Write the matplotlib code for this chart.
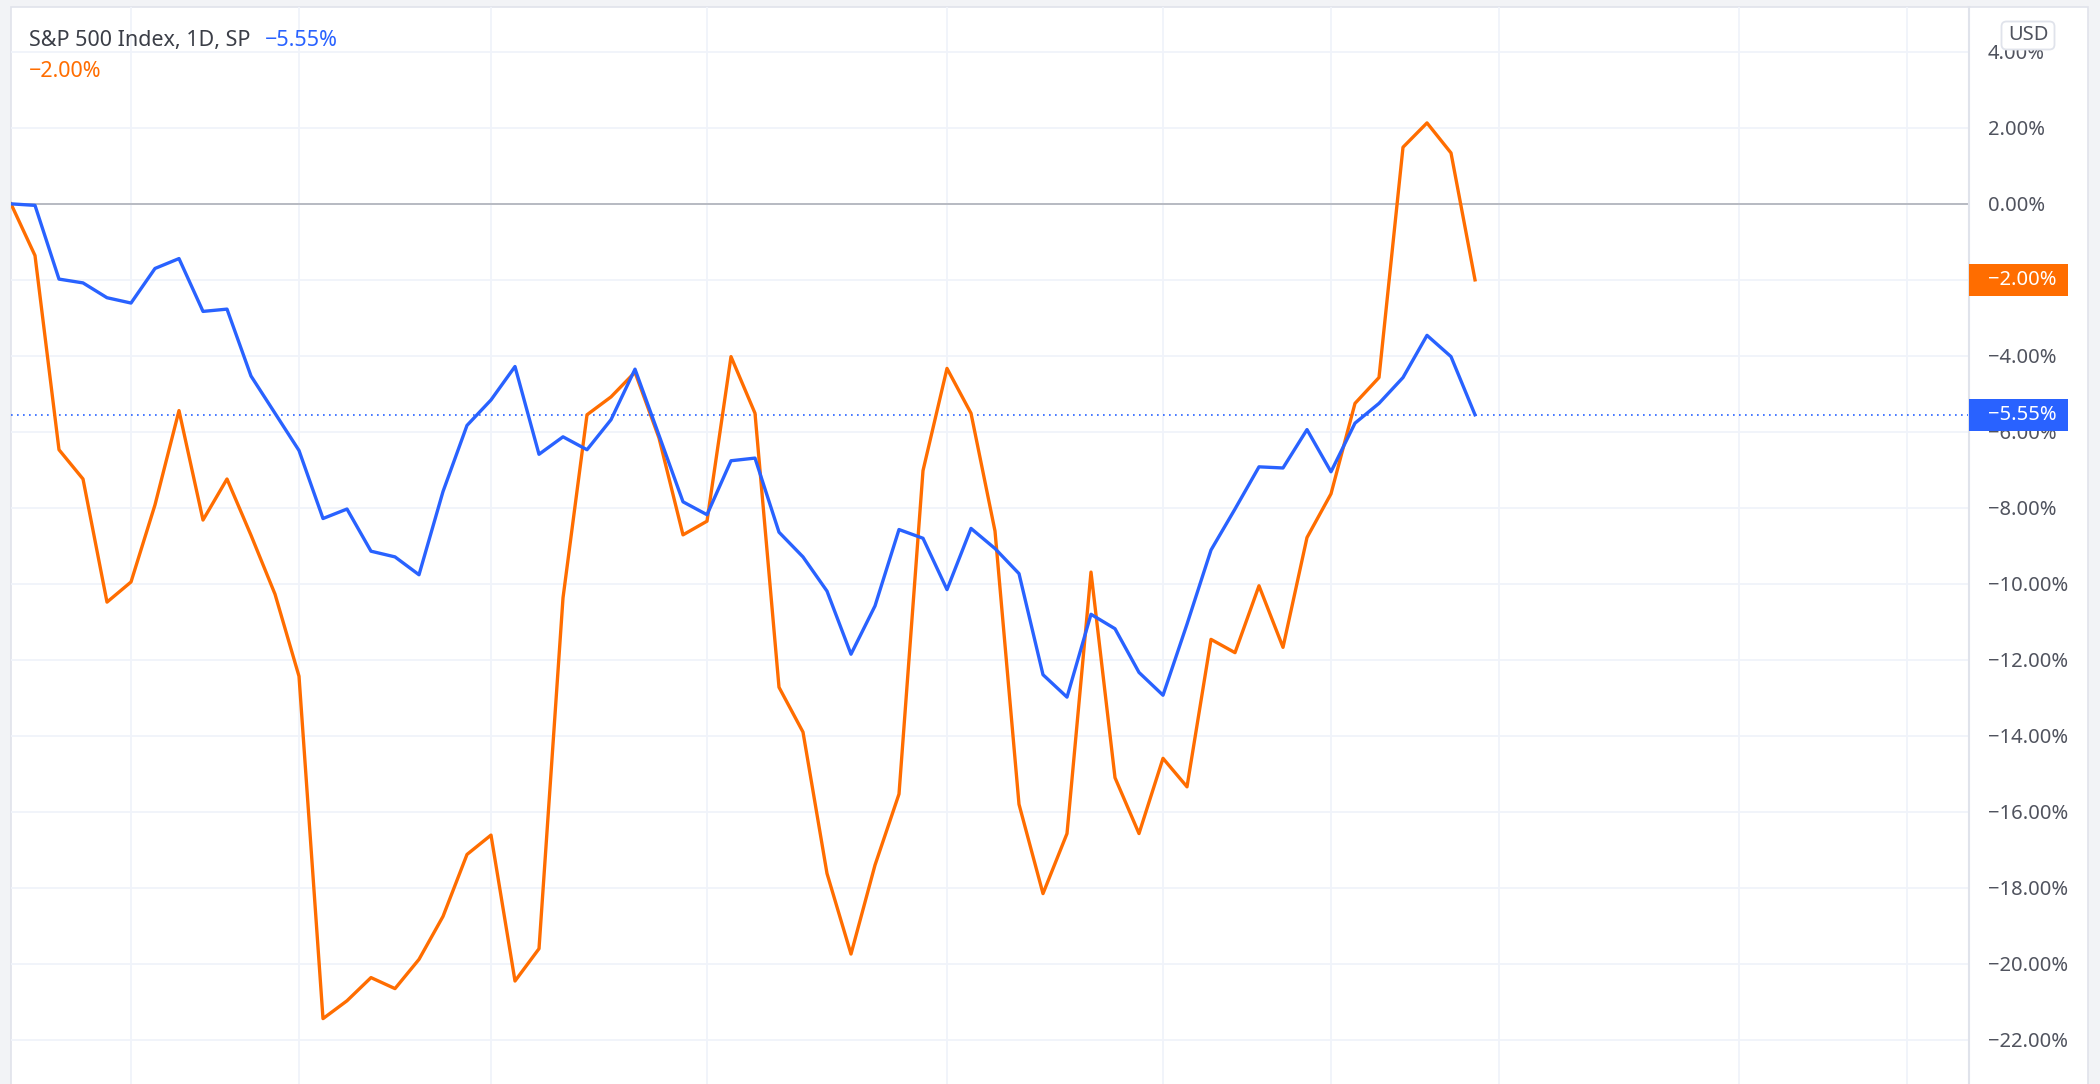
import matplotlib.pyplot as plt
import matplotlib.transforms as mtransforms
from matplotlib.patches import Rectangle, FancyBboxPatch
from matplotlib.lines import Line2D
from matplotlib.ticker import FuncFormatter
import numpy as np

# daily % change since start, S&P 500 (blue) and the compared symbol (orange)
spx_pct = [0.00, -0.04, -1.98, -2.08, -2.47, -2.61, -1.70, -1.44, -2.83, -2.77,
           -4.53, -5.51, -6.49, -8.28, -8.03, -9.14, -9.29, -9.76, -7.57, -5.83,
           -5.16, -4.28, -6.59, -6.13, -6.47, -5.68, -4.35, -6.09, -7.84, -8.18,
           -6.76, -6.69, -8.64, -9.29, -10.19, -11.85, -10.58, -8.57, -8.80, -10.15,
           -8.54, -9.07, -9.73, -12.39, -12.98, -10.80, -11.18, -12.33, -12.93, -11.06,
           -9.11, -8.03, -6.92, -6.95, -5.94, -7.05, -5.77, -5.25, -4.57, -3.46,
           -4.02, -5.55]
cmp_pct = [0.00, -1.36, -6.47, -7.24, -10.48, -9.95, -7.92, -5.44, -8.32, -7.24,
           -8.72, -10.27, -12.43, -21.44, -20.97, -20.36, -20.65, -19.88, -18.75, -17.12,
           -16.61, -20.45, -19.60, -10.37, -5.55, -5.08, -4.43, -6.16, -8.71, -8.35,
           -4.02, -5.51, -12.72, -13.90, -17.62, -19.74, -17.40, -15.53, -7.02, -4.33,
           -5.51, -8.61, -15.80, -18.15, -16.57, -9.69, -15.10, -16.57, -14.59, -15.34,
           -11.46, -11.81, -10.05, -11.67, -8.78, -7.63, -5.25, -4.57, 1.49, 2.13,
           1.34, -2.00]
price_ticks = list(range(-22, 5, 2))
date_grid = [5, 12, 20, 29, 39, 48, 55, 62, 72, 79]

title = 'S&P 500 Index, 1D, SP'
currency = 'USD'

BLUE = '#2962ff'
ORANGE = '#ff6d00'
GRID = '#f0f3fa'
BORDER = '#e0e3eb'
TXT = '#50535e'

W, H = 2100, 1084
plt.rcParams['font.family'] = ['Noto Sans', 'DejaVu Sans']


def fmt_pct(v, pos=None):
    return ('%.2f%%' % v).replace('-', '\u2212')


def px(x, y):
    # pixel from top-left -> figure fraction
    return x / W, 1 - y / H


fig = plt.figure(figsize=(W / 100, H / 100), dpi=100)
fig.patch.set_facecolor('#f2f3f6')

# white chart panel with thin frame
fig.add_artist(Rectangle((11 / W, -0.02), (2088 - 11) / W, (1084 - 7) / H + 0.02,
                         transform=fig.transFigure, facecolor='white',
                         edgecolor=BORDER, lw=1.2, zorder=-5))

ax = fig.add_axes([11 / W, 0, (1969 - 11) / W, (1084 - 7) / H])
ax.set_facecolor('none')
x = np.arange(len(spx_pct))

ax.set_xlim(0, (1969 - 11) / 24.0)
ax.set_ylim(-23.16, 5.18)

ax.set_yticks(price_ticks)
ax.set_xticks(date_grid)
ax.grid(True, color=GRID, lw=1.3)
ax.set_axisbelow(True)
ax.yaxis.tick_right()
ax.yaxis.set_major_formatter(FuncFormatter(fmt_pct))
ax.tick_params(axis='y', length=0, pad=13.7, labelsize=14.5, labelcolor=TXT)
ax.tick_params(axis='x', length=0, labelbottom=False)
for s in ax.spines.values():
    s.set_visible(False)

ax.axhline(0, color='#b2b5be', lw=1.3, zorder=1)
ax.axhline(spx_pct[-1], color=BLUE, lw=1.2, ls=(0, (1, 2.6)), zorder=1)

ax.plot(x, cmp_pct, color=ORANGE, lw=2.4, solid_joinstyle='round', zorder=3)
ax.plot(x, spx_pct, color=BLUE, lw=2.4, solid_joinstyle='round', zorder=4)

# price axis separator
fig.add_artist(Line2D([1969 / W, 1969 / W], [0, (1084 - 7) / H],
                      transform=fig.transFigure, color=BORDER, lw=1.5))

# last value badges on price axis
fig.canvas.draw()
ident = mtransforms.IdentityTransform()
for val, col in [(cmp_pct[-1], ORANGE), (spx_pct[-1], BLUE)]:
    yc = ax.transData.transform((0, val))[1]
    fig.add_artist(Rectangle((1969, yc - 16), 99, 32, transform=ident,
                             facecolor=col, edgecolor='none', zorder=5))
    fig.text(1988, yc, fmt_pct(val), transform=ident, color='white',
             fontsize=14.5, va='center', ha='left', zorder=6)

# currency button
fig.add_artist(FancyBboxPatch((2003, H - 48), 50, 25, transform=ident,
                              boxstyle='round,pad=1.5,rounding_size=5',
                              facecolor='white', edgecolor=BORDER, lw=1.3, zorder=5))
fig.text(2028, H - 35.5, currency, transform=ident, color=TXT,
         fontsize=14.5, ha='center', va='center', zorder=6)

# legend texts
fig.text(*px(29, 46), title, color='#3b3e47', fontsize=15.5, va='baseline')
fig.text(*px(265, 46), fmt_pct(spx_pct[-1]), color=BLUE, fontsize=15.5, va='baseline')
fig.text(*px(29, 77), fmt_pct(cmp_pct[-1]), color=ORANGE, fontsize=15.5, va='baseline')

plt.savefig('out.png', dpi=100, facecolor=fig.get_facecolor())
